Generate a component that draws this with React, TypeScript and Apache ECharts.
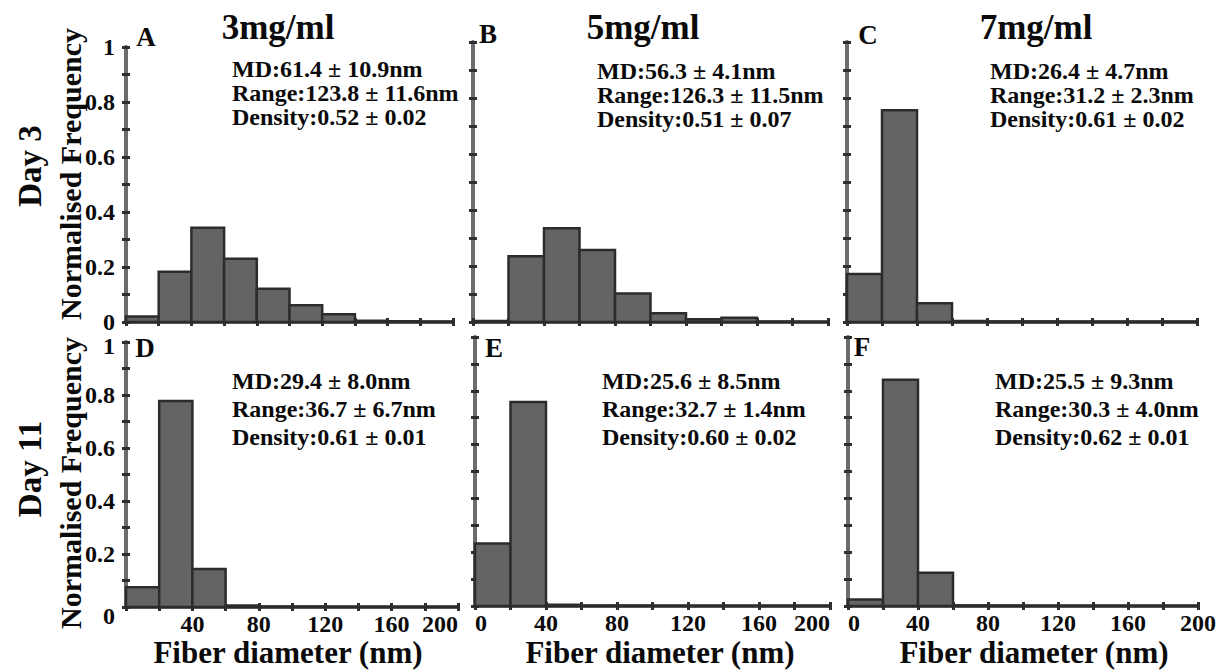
import React, { useEffect, useRef } from "react";
import * as echarts from "echarts";

const FONT = '"Liberation Serif", "Times New Roman", Times, serif';

// Histogram bins (nm): each bin starts at binStarts[i] and is binWidth wide
const binStarts = [0, 20, 40, 60, 80, 100, 120, 140, 160, 180];
const binWidth = 20;

// Normalised frequency, Day 3
const day3_3mg = [0.02, 0.183, 0.343, 0.23, 0.121, 0.061, 0.028, 0.005, 0.003, 0.001];
const day3_5mg = [0.004, 0.235, 0.335, 0.257, 0.102, 0.031, 0.01, 0.015, 0.001, 0];
const day3_7mg = [0.171, 0.756, 0.067, 0.004, 0.002, 0.002, 0.001, 0.001, 0.001, 0.001];
// Normalised frequency, Day 11
const day11_3mg = [0.075, 0.777, 0.143, 0.006, 0.001, 0.001, 0, 0, 0, 0];
const day11_5mg = [0.232, 0.758, 0.005, 0.001, 0.001, 0, 0, 0, 0, 0];
const day11_7mg = [0.024, 0.841, 0.124, 0.002, 0.001, 0, 0, 0, 0, 0];

const panelLetters = ["A", "B", "C", "D", "E", "F"];
const concentrations = ["3mg/ml", "5mg/ml", "7mg/ml"];
const dayLabels = ["Day 3", "Day 11"];
const statsLines = [
  ["MD:61.4 ± 10.9nm", "Range:123.8 ± 11.6nm", "Density:0.52 ± 0.02"],
  ["MD:56.3 ± 4.1nm", "Range:126.3 ± 11.5nm", "Density:0.51 ± 0.07"],
  ["MD:26.4 ± 4.7nm", "Range:31.2 ± 2.3nm", "Density:0.61 ± 0.02"],
  ["MD:29.4 ± 8.0nm", "Range:36.7 ± 6.7nm", "Density:0.61 ± 0.01"],
  ["MD:25.6 ± 8.5nm", "Range:32.7 ± 1.4nm", "Density:0.60 ± 0.02"],
  ["MD:25.5 ± 9.3nm", "Range:30.3 ± 4.0nm", "Density:0.62 ± 0.01"],
];
const yAxisTitle = "Normalised Frequency";
const xAxisTitle = "Fiber diameter (nm)";

const panelData = [day3_3mg, day3_5mg, day3_7mg, day11_3mg, day11_5mg, day11_7mg];

// layout
const grids = [
  { left: 126, top: 47, width: 327, height: 275 },
  { left: 473, top: 42, width: 355, height: 280 },
  { left: 847, top: 42, width: 350, height: 280 },
  { left: 126, top: 342, width: 332, height: 265 },
  { left: 475, top: 337, width: 355, height: 269 },
  { left: 848, top: 337, width: 350, height: 269 },
];
const letterPos = [
  [146, 37], [488, 34], [868, 35],
  [145, 348], [494, 348], [862, 347],
];
const statsPos = [
  [232, 69, 24], [597, 71, 24], [990, 71, 24],
  [232, 381, 28], [602, 381, 28], [995, 381, 28],
];
const titlePos = [[278, 27], [643, 27], [1036, 27]];
const xTitlePos = [[288, 652], [660, 652], [1034, 652]];

const TEXT_COLOR = "#0a0a0a";

const labelFont = { fontFamily: FONT, fontSize: 24, fontWeight: "bold" as const, color: TEXT_COLOR };

function yLabelTop(v: number) {
  const r = Math.round(v * 10);
  if (r % 2 !== 0) return "";
  if (r === 0) return "0";
  if (r === 10) return "1";
  return (r / 10).toFixed(1);
}
function yLabelBottom(v: number) {
  const r = Math.round(v * 10);
  if (r % 2 !== 0) return "";
  if (r === 0) return "{lo|0}";
  if (r === 10) return "{hi|1}";
  return (r / 10).toFixed(1);
}

export default function App() {
  const ref = useRef<HTMLDivElement>(null);
  useEffect(() => {
    if (!ref.current) return;
    const chart = echarts.init(ref.current, null, { renderer: "svg" });

    const xAxes: any[] = [];
    const yAxes: any[] = [];
    const series: any[] = [];
    const graphic: any[] = [];

    grids.forEach((g, i) => {
      const bottomRow = i >= 3;
      const showY = i === 0 || i === 3;
      const hideZeroX = i === 3;
      const tickStyle = { color: "#2e2e2e", width: 3 };
      xAxes.push({
        type: "value",
        gridIndex: i,
        position: "bottom",
        min: 0,
        max: 200,
        interval: 20,
        splitLine: { show: false },
        axisLine: { show: true, onZero: false, lineStyle: { color: "#333", width: 3.5 } },
        axisTick: { show: true, length: 4, lineStyle: tickStyle },
        axisLabel: {
          show: bottomRow,
          margin: 5,
          ...labelFont,
          alignMinLabel: i === 4 || i === 5 ? "left" : "center",
          alignMaxLabel: i === 3 || i === 4 ? "right" : "center",
          formatter: (v: number) => {
            if (hideZeroX && v === 0) return "";
            return v % 40 === 0 ? String(v) : "";
          },
        },
      });
      xAxes.push({
        type: "value",
        gridIndex: i,
        position: "bottom",
        min: 0,
        max: 200,
        interval: 20,
        splitLine: { show: false },
        axisLine: { show: false },
        axisTick: { show: true, inside: true, length: 4, lineStyle: tickStyle },
        axisLabel: { show: false },
      });
      yAxes.push({
        type: "value",
        gridIndex: i,
        position: "left",
        min: 0,
        max: 1,
        interval: 0.1,
        splitLine: { show: false },
        axisLine: { show: true, onZero: false, lineStyle: { color: "#6c6c6c", width: 4 } },
        axisTick: { show: true, length: 4, lineStyle: tickStyle },
        axisLabel: {
          show: showY,
          margin: 11,
          ...labelFont,
          formatter: i === 3 ? yLabelBottom : yLabelTop,
          rich: {
            lo: { ...labelFont, padding: [18, 0, 0, 0] },
            hi: { ...labelFont, padding: [7, 0, 0, 0] },
          },
        },
      });
      yAxes.push({
        type: "value",
        gridIndex: i,
        position: "left",
        min: 0,
        max: 1,
        interval: 0.1,
        splitLine: { show: false },
        axisLine: { show: false },
        axisTick: { show: true, inside: true, length: 4, lineStyle: tickStyle },
        axisLabel: { show: false },
      });

      const vals = panelData[i];
      series.push({
        type: "custom",
        xAxisIndex: i * 2,
        yAxisIndex: i * 2,
        z: 3,
        data: binStarts.map((s, k) => [s, s + binWidth, vals[k]]),
        renderItem: (params: any, api: any) => {
          const x0 = api.value(0);
          const x1 = api.value(1);
          const v = api.value(2);
          const pTop = api.coord([x0, v]);
          const pBot = api.coord([x1, 0]);
          return {
            type: "rect",
            shape: {
              x: pTop[0],
              y: pTop[1],
              width: pBot[0] - pTop[0],
              height: pBot[1] - pTop[1],
            },
            style: { fill: "#646464", stroke: "#2c2c2c", lineWidth: 2.5 },
          };
        },
      });

      // panel letter
      graphic.push({
        type: "text",
        x: letterPos[i][0],
        y: letterPos[i][1],
        style: {
          text: panelLetters[i],
          fontFamily: FONT,
          fontSize: 27,
          fontWeight: "bold",
          fill: TEXT_COLOR,
          align: "center",
          verticalAlign: "middle",
          textAlign: "center",
          textVerticalAlign: "middle",
        },
      });
      // stats
      statsLines[i].forEach((line, k) => {
        graphic.push({
          type: "text",
          x: statsPos[i][0],
          y: statsPos[i][1] + k * statsPos[i][2],
          style: {
            text: line,
            fontFamily: FONT,
            fontSize: 24,
            fontWeight: "bold",
            fill: TEXT_COLOR,
            align: "left",
            verticalAlign: "middle",
            textAlign: "left",
            textVerticalAlign: "middle",
          },
        });
      });
    });

    concentrations.forEach((c, j) => {
      graphic.push({
        type: "text",
        x: titlePos[j][0],
        y: titlePos[j][1],
        style: {
          text: c,
          fontFamily: FONT,
          fontSize: 35,
          fontWeight: "bold",
          fill: TEXT_COLOR,
          align: "center",
          verticalAlign: "middle",
          textAlign: "center",
          textVerticalAlign: "middle",
        },
      });
      graphic.push({
        type: "text",
        x: xTitlePos[j][0],
        y: xTitlePos[j][1],
        style: {
          text: xAxisTitle,
          fontFamily: FONT,
          fontSize: 31,
          fontWeight: "bold",
          fill: TEXT_COLOR,
          align: "center",
          verticalAlign: "middle",
          textAlign: "center",
          textVerticalAlign: "middle",
        },
      });
    });

    const rowCenters = [174, 483];
    const dayCenters = [166, 469];
    dayLabels.forEach((d, r) => {
      graphic.push({
        type: "text",
        x: 30,
        y: dayCenters[r],
        rotation: Math.PI / 2,
        style: {
          text: d,
          fontFamily: FONT,
          fontSize: 33,
          fontWeight: "bold",
          fill: TEXT_COLOR,
          align: "center",
          verticalAlign: "middle",
          textAlign: "center",
          textVerticalAlign: "middle",
        },
      });
      graphic.push({
        type: "text",
        x: 70,
        y: rowCenters[r],
        rotation: Math.PI / 2,
        style: {
          text: yAxisTitle,
          fontFamily: FONT,
          fontSize: 30,
          fontWeight: "bold",
          fill: TEXT_COLOR,
          align: "center",
          verticalAlign: "middle",
          textAlign: "center",
          textVerticalAlign: "middle",
        },
      });
    });

    chart.setOption({
      animation: false,
      backgroundColor: "#ffffff",
      grid: grids.map((g) => ({ ...g, containLabel: false })),
      xAxis: xAxes,
      yAxis: yAxes,
      series,
      graphic,
    });

    return () => chart.dispose();
  }, []);

  return (
    <div
      ref={ref}
      style={{ position: "fixed", left: 0, top: 0, width: 1220, height: 672, background: "#fff" }}
    />
  );
}
